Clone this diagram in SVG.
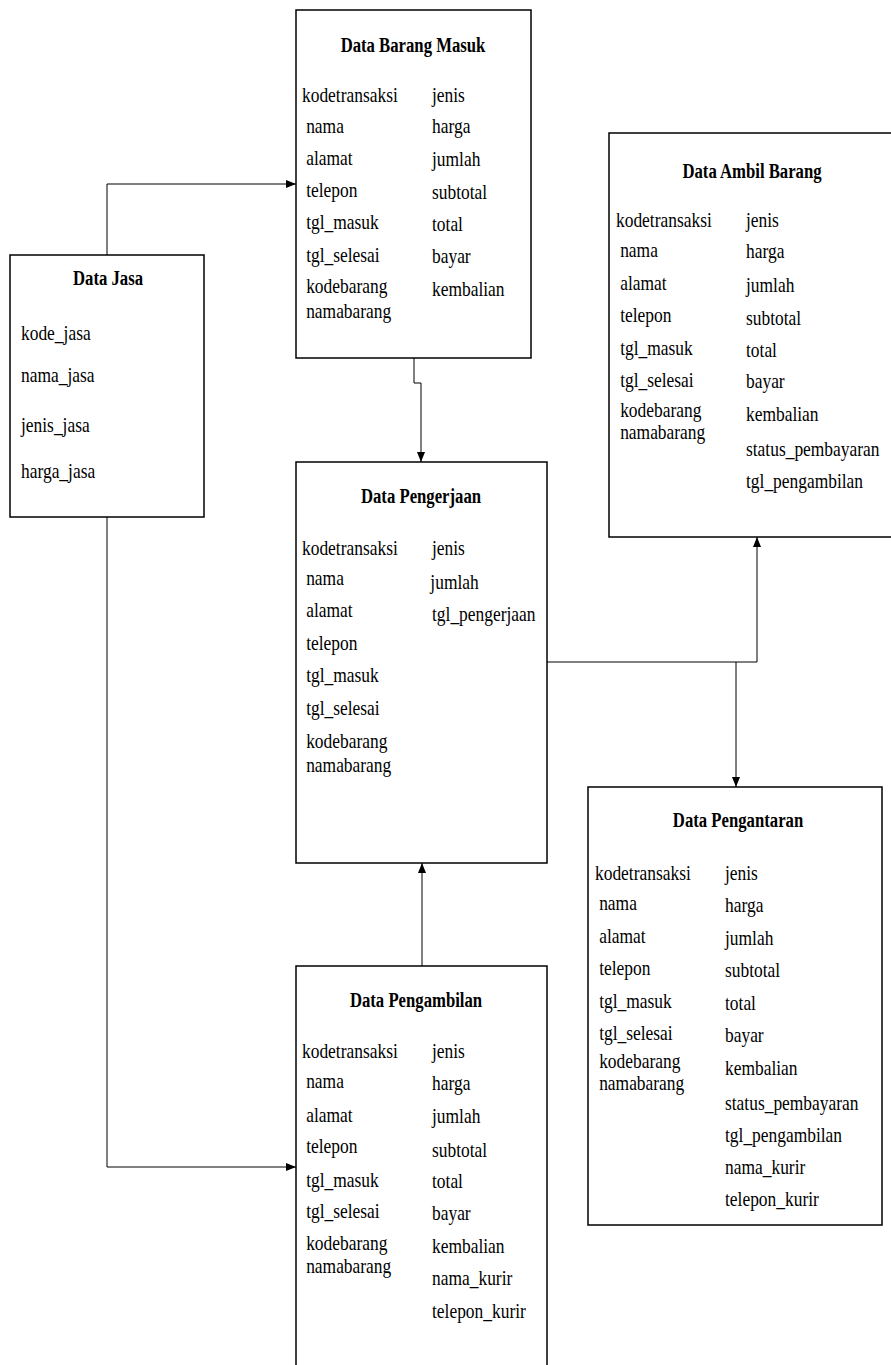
<svg xmlns="http://www.w3.org/2000/svg" width="891" height="1365" viewBox="0 0 891 1365" font-family="'Liberation Serif', 'DejaVu Serif', serif">
<style>
.box{fill:#fff;stroke:#000;stroke-width:1.5}
.con{fill:none;stroke:#000;stroke-width:1}
text{font-family:'Liberation Serif','DejaVu Serif',serif;fill:#000}
.t{font-size:22px;font-weight:bold;text-anchor:middle}
.f{font-size:21px}
</style>
<defs>
<marker id="ah" markerUnits="userSpaceOnUse" markerWidth="10" markerHeight="8" refX="10" refY="4" orient="auto">
<path d="M0,0 L10,4 L0,8 z" fill="#000"/>
</marker>
</defs>
<rect width="891" height="1365" fill="#fff"/>

<g id="connectors">
<path class="con" d="M107,255 V184 H296" marker-end="url(#ah)"/>
<path class="con" d="M107,517 V1167 H296" marker-end="url(#ah)"/>
<path class="con" d="M414,358 V383 H421 V462" marker-end="url(#ah)"/>
<path class="con" d="M547,662 H757 V537" marker-end="url(#ah)"/>
<path class="con" d="M736,662 V787" marker-end="url(#ah)"/>
<path class="con" d="M422,966 V863" marker-end="url(#ah)"/>
</g>

<g id="data-barang-masuk">
<rect class="box" x="296" y="10" width="235" height="348"/>
<text class="t" transform="translate(413 0) scale(0.76 1)" x="0" y="52">Data Barang Masuk</text>
<g transform="translate(302 0) scale(0.83 1)">
<text class="f" x="0" y="102">kodetransaksi</text>
<text class="f" x="5" y="133">nama</text>
<text class="f" x="5" y="165">alamat</text>
<text class="f" x="5" y="197">telepon</text>
<text class="f" x="5" y="229">tgl_masuk</text>
<text class="f" x="5" y="262">tgl_selesai</text>
<text class="f" x="5" y="293">kodebarang</text>
<text class="f" x="5" y="318">namabarang</text>
</g>
<g transform="translate(432 0) scale(0.83 1)">
<text class="f" x="0" y="102">jenis</text>
<text class="f" x="0" y="133">harga</text>
<text class="f" x="0" y="166">jumlah</text>
<text class="f" x="0" y="199">subtotal</text>
<text class="f" x="0" y="231">total</text>
<text class="f" x="0" y="263">bayar</text>
<text class="f" x="0" y="296">kembalian</text>
</g>
</g>

<g id="data-jasa">
<rect class="box" x="10" y="255" width="194" height="262"/>
<text class="t" transform="translate(108 0) scale(0.76 1)" x="0" y="285">Data Jasa</text>
<g transform="translate(21 0) scale(0.83 1)">
<text class="f" x="0" y="340">kode_jasa</text>
<text class="f" x="0" y="382">nama_jasa</text>
<text class="f" x="0" y="432">jenis_jasa</text>
<text class="f" x="0" y="478">harga_jasa</text>
</g>
</g>

<g id="data-ambil-barang">
<rect class="box" x="609" y="133" width="290" height="404"/>
<text class="t" transform="translate(752 0) scale(0.76 1)" x="0" y="178">Data Ambil Barang</text>
<g transform="translate(616 0) scale(0.83 1)">
<text class="f" x="0" y="227">kodetransaksi</text>
<text class="f" x="5" y="257">nama</text>
<text class="f" x="5" y="290">alamat</text>
<text class="f" x="5" y="322">telepon</text>
<text class="f" x="5" y="355">tgl_masuk</text>
<text class="f" x="5" y="387">tgl_selesai</text>
<text class="f" x="5" y="417">kodebarang</text>
<text class="f" x="5" y="439">namabarang</text>
</g>
<g transform="translate(746 0) scale(0.83 1)">
<text class="f" x="0" y="227">jenis</text>
<text class="f" x="0" y="258">harga</text>
<text class="f" x="0" y="292">jumlah</text>
<text class="f" x="0" y="325">subtotal</text>
<text class="f" x="0" y="357">total</text>
<text class="f" x="0" y="388">bayar</text>
<text class="f" x="0" y="421">kembalian</text>
<text class="f" x="0" y="456">status_pembayaran</text>
<text class="f" x="0" y="488">tgl_pengambilan</text>
</g>
</g>

<g id="data-pengerjaan">
<rect class="box" x="296" y="462" width="251" height="401"/>
<text class="t" transform="translate(421 0) scale(0.76 1)" x="0" y="503">Data Pengerjaan</text>
<g transform="translate(302 0) scale(0.83 1)">
<text class="f" x="0" y="555">kodetransaksi</text>
<text class="f" x="5" y="585">nama</text>
<text class="f" x="5" y="617">alamat</text>
<text class="f" x="5" y="650">telepon</text>
<text class="f" x="5" y="682">tgl_masuk</text>
<text class="f" x="5" y="715">tgl_selesai</text>
<text class="f" x="5" y="748">kodebarang</text>
<text class="f" x="5" y="772">namabarang</text>
</g>
<g transform="translate(432 0) scale(0.83 1)">
<text class="f" x="0" y="555">jenis</text>
<text class="f" x="-2" y="589">jumlah</text>
<text class="f" x="0" y="621">tgl_pengerjaan</text>
</g>
</g>

<g id="data-pengantaran">
<rect class="box" x="588" y="787" width="294" height="438"/>
<text class="t" transform="translate(738 0) scale(0.76 1)" x="0" y="827">Data Pengantaran</text>
<g transform="translate(595 0) scale(0.83 1)">
<text class="f" x="0" y="880">kodetransaksi</text>
<text class="f" x="5" y="910">nama</text>
<text class="f" x="5" y="943">alamat</text>
<text class="f" x="5" y="975">telepon</text>
<text class="f" x="5" y="1008">tgl_masuk</text>
<text class="f" x="5" y="1040">tgl_selesai</text>
<text class="f" x="5" y="1068">kodebarang</text>
<text class="f" x="5" y="1090">namabarang</text>
</g>
<g transform="translate(725 0) scale(0.83 1)">
<text class="f" x="0" y="880">jenis</text>
<text class="f" x="0" y="912">harga</text>
<text class="f" x="0" y="945">jumlah</text>
<text class="f" x="0" y="977">subtotal</text>
<text class="f" x="0" y="1010">total</text>
<text class="f" x="0" y="1042">bayar</text>
<text class="f" x="0" y="1075">kembalian</text>
<text class="f" x="0" y="1110">status_pembayaran</text>
<text class="f" x="0" y="1142">tgl_pengambilan</text>
<text class="f" x="0" y="1174">nama_kurir</text>
<text class="f" x="0" y="1206">telepon_kurir</text>
</g>
</g>

<g id="data-pengambilan">
<rect class="box" x="296" y="966" width="251" height="420"/>
<text class="t" transform="translate(416 0) scale(0.76 1)" x="0" y="1007">Data Pengambilan</text>
<g transform="translate(302 0) scale(0.83 1)">
<text class="f" x="0" y="1058">kodetransaksi</text>
<text class="f" x="5" y="1088">nama</text>
<text class="f" x="5" y="1122">alamat</text>
<text class="f" x="5" y="1153">telepon</text>
<text class="f" x="5" y="1187">tgl_masuk</text>
<text class="f" x="5" y="1218">tgl_selesai</text>
<text class="f" x="5" y="1250">kodebarang</text>
<text class="f" x="5" y="1273">namabarang</text>
</g>
<g transform="translate(432 0) scale(0.83 1)">
<text class="f" x="0" y="1058">jenis</text>
<text class="f" x="0" y="1090">harga</text>
<text class="f" x="0" y="1123">jumlah</text>
<text class="f" x="0" y="1157">subtotal</text>
<text class="f" x="0" y="1188">total</text>
<text class="f" x="0" y="1220">bayar</text>
<text class="f" x="0" y="1253">kembalian</text>
<text class="f" x="0" y="1285">nama_kurir</text>
<text class="f" x="0" y="1318">telepon_kurir</text>
</g>
</g>
</svg>
